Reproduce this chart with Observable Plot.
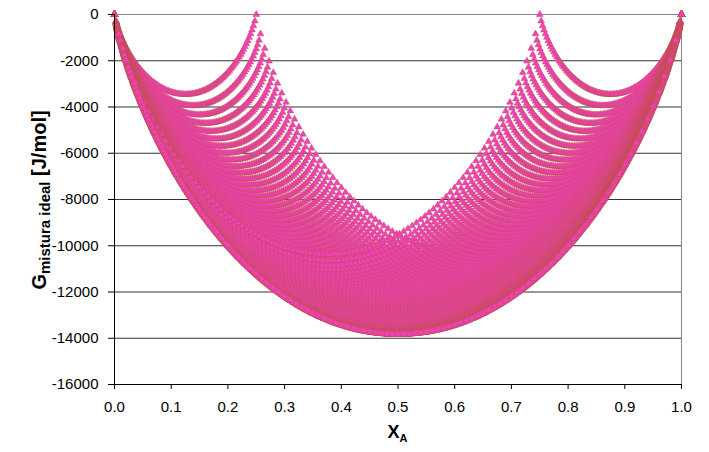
<!DOCTYPE html>
<html>
<head>
<meta charset="utf-8">
<script src="https://cdn.jsdelivr.net/npm/d3@7"></script>
<script src="https://cdn.jsdelivr.net/npm/@observablehq/plot@0.6"></script>
<style>
  html, body { margin: 0; padding: 0; background: #fff; }
  #chart { width: 709px; height: 452px; }
</style>
</head>
<body>
<div id="chart"></div>
<script>
// Ideal-mixing Gibbs energy of a two-phase A-B system:
// phase 1 holds 1/4 of the moles, phase 2 holds 3/4.
const R = 8.314;          // J/(mol K)
const T = 2400;           // K
const RT = R * T;
const phaseShare = [0.25, 0.75];

// Composition of phase 1 (s) and ratio of phase-2 to phase-1 composition (t)
const sValues = d3.range(0, 101).map(i => i / 100);
const tValues = d3.range(0, 101).map(i => i / 100);

// Axis ticks
const xTicks = [0, 0.1, 0.2, 0.3, 0.4, 0.5, 0.6, 0.7, 0.8, 0.9, 1.0];
const yTicks = [-16000, -14000, -12000, -10000, -8000, -6000, -4000, -2000, 0];

// G_mix per mole for a binary solution of composition y
const gIdeal = y => (y <= 0 || y >= 1) ? 0 : RT * (y * Math.log(y) + (1 - y) * Math.log(1 - y));

const points = [];
for (const mirrored of [false, true]) {
  for (const t of tValues) {
    for (const s of sValues) {
      const y1 = s, y2 = s * t;
      const x = phaseShare[0] * y1 + phaseShare[1] * y2;
      const g = phaseShare[0] * gIdeal(y1) + phaseShare[1] * gIdeal(y2);
      points.push({ x: mirrored ? 1 - x : x, g });
    }
  }
}

const font = "'Liberation Sans', Arial, sans-serif";

const chart = Plot.plot({
  width: 709,
  height: 452,
  marginTop: 14,
  marginBottom: 68,
  marginLeft: 114,
  marginRight: 28,
  style: { fontFamily: font, fontSize: "15px", color: "#000", background: "#fff", overflow: "visible" },
  x: { domain: [0, 1] },
  y: { domain: [-16000, 0] },
  marks: [
    Plot.ruleY(yTicks.filter(d => d > -16000 && d < 0), { stroke: "#333", strokeWidth: 1 }),
    Plot.frame({ stroke: "#888", strokeWidth: 1 }),
    Plot.dot(points, {
      x: "x", y: "g", symbol: "triangle", r: 2.5,
      fill: "#f43fc3", stroke: "#c0504d", strokeWidth: 0.5
    }),
    Plot.ruleX([0], { stroke: "#000", strokeWidth: 1 }),
    Plot.ruleY([-16000], { stroke: "#000", strokeWidth: 1 }),
    Plot.axisY({ ticks: yTicks, tickSize: 6, tickPadding: 10, tickFormat: d => String(d), label: null }),
    Plot.axisX({ ticks: xTicks, tickSize: 5, tickPadding: 12, tickFormat: d => d.toFixed(1), label: null })
  ]
});

document.getElementById("chart").appendChild(chart);

// Axis titles with subscripts
const svg = d3.select(chart);
const yTitle = svg.append("text")
  .attr("transform", `translate(46,200) rotate(-90)`)
  .attr("text-anchor", "middle")
  .attr("font-family", font)
  .attr("font-weight", "bold")
  .attr("font-size", 20)
  .attr("fill", "#000");
yTitle.append("tspan").text("G");
yTitle.append("tspan").attr("font-size", 15).attr("dy", 4).text("mistura ideal");
yTitle.append("tspan").attr("dy", -4).text(" [J/mol]");

const xTitle = svg.append("text")
  .attr("x", (114 + 681) / 2)
  .attr("y", 438)
  .attr("text-anchor", "middle")
  .attr("font-family", font)
  .attr("font-weight", "bold")
  .attr("font-size", 18)
  .attr("fill", "#000");
xTitle.append("tspan").text("X");
xTitle.append("tspan").attr("font-size", 11).attr("dy", 4).text("A");
</script>
</body>
</html>
